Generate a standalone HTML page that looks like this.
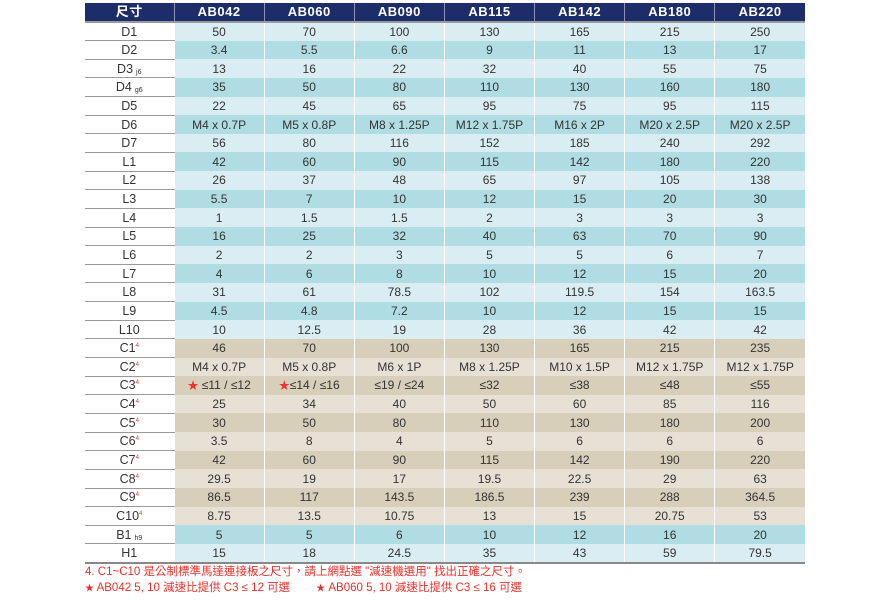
<!DOCTYPE html>
<html><head><meta charset="utf-8"><style>
body{margin:0;background:#fff;width:890px;height:601px;overflow:hidden;font-family:"Liberation Sans","Noto Sans CJK TC",sans-serif;}
table{position:absolute;left:85px;top:3px;border-collapse:collapse;table-layout:fixed;width:720px;}
td,th{padding:0;text-align:center;font-size:12px;color:#333;height:18.65px;line-height:14px;border-right:1.5px solid #fff;box-sizing:border-box;white-space:nowrap;overflow:hidden}
th{background:#1c2d69;color:#fff;font-weight:bold;font-size:13px;height:19px;border-right:1.5px solid #8a93b3;border-bottom:2px solid #9a9a9a;letter-spacing:0.5px}
th:last-child,td:last-child{border-right:none}
td.l{background:#fff;border-bottom:1px solid #999;font-size:12.5px;}
tr.a td{background:#d9edf2} tr.b td{background:#b0dde3}
tr.c td{background:#d8cfbb} tr.d td{background:#e7e1d5}
tr td.l{background:#fff}
sub{font-size:7px;line-height:0;vertical-align:-1px;margin-left:3px}
sup{font-size:6px;line-height:0;color:#e33;vertical-align:5px}
.s{color:#e33;font-size:11px;line-height:0}
tr:last-child td{border-bottom:2px solid #888}
.fn{position:absolute;left:85px;color:#e8302a;font-size:11.5px;line-height:14px}
</style></head><body>
<table>
<colgroup><col style="width:89px"><col span="7" style="width:90.1px"></colgroup>
<tr><th>尺寸</th><th>AB042</th><th>AB060</th><th>AB090</th><th>AB115</th><th>AB142</th><th>AB180</th><th>AB220</th></tr>
<tr class="a"><td class="l">D1</td><td>50</td><td>70</td><td>100</td><td>130</td><td>165</td><td>215</td><td>250</td></tr>
<tr class="b"><td class="l">D2</td><td>3.4</td><td>5.5</td><td>6.6</td><td>9</td><td>11</td><td>13</td><td>17</td></tr>
<tr class="a"><td class="l">D3<sub>j6</sub></td><td>13</td><td>16</td><td>22</td><td>32</td><td>40</td><td>55</td><td>75</td></tr>
<tr class="b"><td class="l">D4<sub>g6</sub></td><td>35</td><td>50</td><td>80</td><td>110</td><td>130</td><td>160</td><td>180</td></tr>
<tr class="a"><td class="l">D5</td><td>22</td><td>45</td><td>65</td><td>95</td><td>75</td><td>95</td><td>115</td></tr>
<tr class="b"><td class="l">D6</td><td>M4 x 0.7P</td><td>M5 x 0.8P</td><td>M8 x 1.25P</td><td>M12 x 1.75P</td><td>M16 x 2P</td><td>M20 x 2.5P</td><td>M20 x 2.5P</td></tr>
<tr class="a"><td class="l">D7</td><td>56</td><td>80</td><td>116</td><td>152</td><td>185</td><td>240</td><td>292</td></tr>
<tr class="b"><td class="l">L1</td><td>42</td><td>60</td><td>90</td><td>115</td><td>142</td><td>180</td><td>220</td></tr>
<tr class="a"><td class="l">L2</td><td>26</td><td>37</td><td>48</td><td>65</td><td>97</td><td>105</td><td>138</td></tr>
<tr class="b"><td class="l">L3</td><td>5.5</td><td>7</td><td>10</td><td>12</td><td>15</td><td>20</td><td>30</td></tr>
<tr class="a"><td class="l">L4</td><td>1</td><td>1.5</td><td>1.5</td><td>2</td><td>3</td><td>3</td><td>3</td></tr>
<tr class="b"><td class="l">L5</td><td>16</td><td>25</td><td>32</td><td>40</td><td>63</td><td>70</td><td>90</td></tr>
<tr class="a"><td class="l">L6</td><td>2</td><td>2</td><td>3</td><td>5</td><td>5</td><td>6</td><td>7</td></tr>
<tr class="b"><td class="l">L7</td><td>4</td><td>6</td><td>8</td><td>10</td><td>12</td><td>15</td><td>20</td></tr>
<tr class="a"><td class="l">L8</td><td>31</td><td>61</td><td>78.5</td><td>102</td><td>119.5</td><td>154</td><td>163.5</td></tr>
<tr class="b"><td class="l">L9</td><td>4.5</td><td>4.8</td><td>7.2</td><td>10</td><td>12</td><td>15</td><td>15</td></tr>
<tr class="a"><td class="l">L10</td><td>10</td><td>12.5</td><td>19</td><td>28</td><td>36</td><td>42</td><td>42</td></tr>
<tr class="c"><td class="l">C1<sup>4</sup></td><td>46</td><td>70</td><td>100</td><td>130</td><td>165</td><td>215</td><td>235</td></tr>
<tr class="d"><td class="l">C2<sup>4</sup></td><td>M4 x 0.7P</td><td>M5 x 0.8P</td><td>M6 x 1P</td><td>M8 x 1.25P</td><td>M10 x 1.5P</td><td>M12 x 1.75P</td><td>M12 x 1.75P</td></tr>
<tr class="c"><td class="l">C3<sup>4</sup></td><td><span class="s">★</span> ≤11 / ≤12</td><td><span class="s">★</span>≤14 / ≤16</td><td>≤19 / ≤24</td><td>≤32</td><td>≤38</td><td>≤48</td><td>≤55</td></tr>
<tr class="d"><td class="l">C4<sup>4</sup></td><td>25</td><td>34</td><td>40</td><td>50</td><td>60</td><td>85</td><td>116</td></tr>
<tr class="c"><td class="l">C5<sup>4</sup></td><td>30</td><td>50</td><td>80</td><td>110</td><td>130</td><td>180</td><td>200</td></tr>
<tr class="d"><td class="l">C6<sup>4</sup></td><td>3.5</td><td>8</td><td>4</td><td>5</td><td>6</td><td>6</td><td>6</td></tr>
<tr class="c"><td class="l">C7<sup>4</sup></td><td>42</td><td>60</td><td>90</td><td>115</td><td>142</td><td>190</td><td>220</td></tr>
<tr class="d"><td class="l">C8<sup>4</sup></td><td>29.5</td><td>19</td><td>17</td><td>19.5</td><td>22.5</td><td>29</td><td>63</td></tr>
<tr class="c"><td class="l">C9<sup>4</sup></td><td>86.5</td><td>117</td><td>143.5</td><td>186.5</td><td>239</td><td>288</td><td>364.5</td></tr>
<tr class="d"><td class="l">C10<sup>4</sup></td><td>8.75</td><td>13.5</td><td>10.75</td><td>13</td><td>15</td><td>20.75</td><td>53</td></tr>
<tr class="b"><td class="l">B1<sub>h9</sub></td><td>5</td><td>5</td><td>6</td><td>10</td><td>12</td><td>16</td><td>20</td></tr>
<tr class="a"><td class="l">H1</td><td>15</td><td>18</td><td>24.5</td><td>35</td><td>43</td><td>59</td><td>79.5</td></tr>
</table>
<div class="fn" style="top:565px">4. C1~C10 是公制標準馬達連接板之尺寸，請上網點選 "減速機選用" 找出正確之尺寸。</div>
<div class="fn" style="top:581px"><span style="font-size:9px">★</span> AB042 5, 10 減速比提供 C3 ≤ 12 可選<span style="display:inline-block;width:26px"></span><span style="font-size:9px">★</span> AB060 5, 10 減速比提供 C3 ≤ 16 可選</div>
</body></html>
